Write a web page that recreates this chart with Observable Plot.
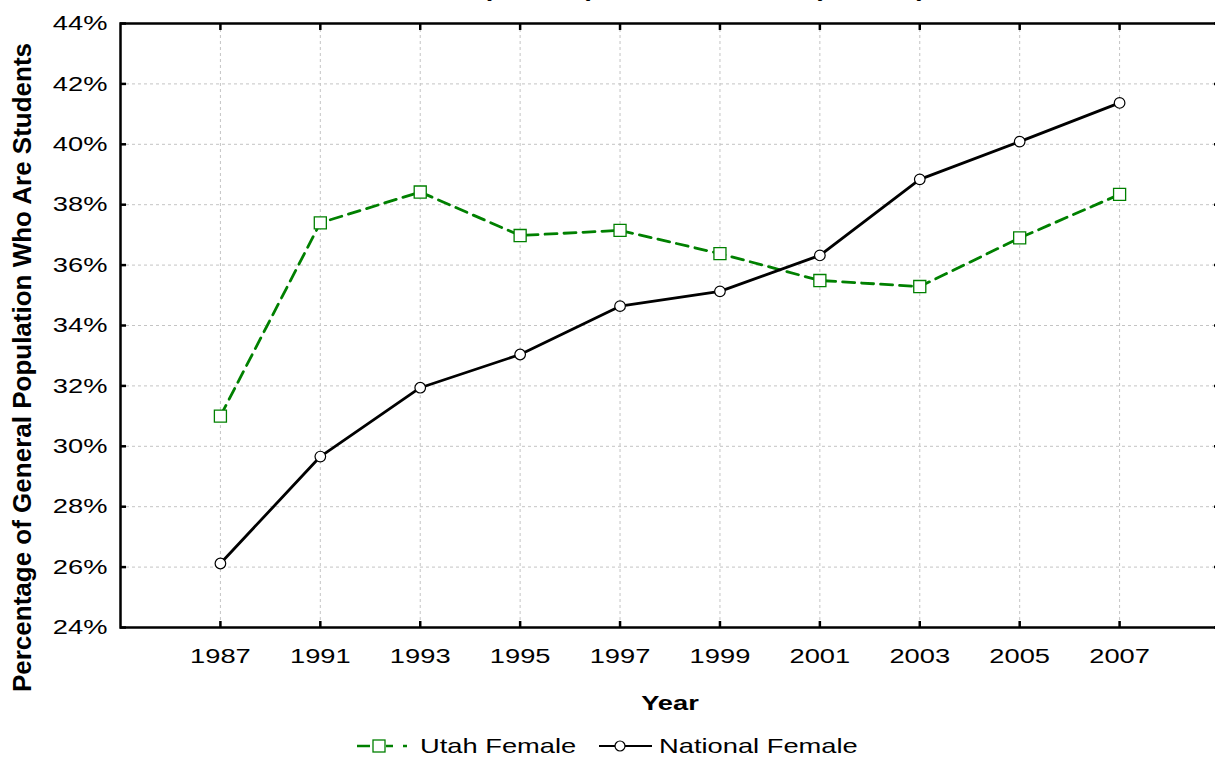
<!DOCTYPE html>
<html><head><meta charset="utf-8">
<script src="https://cdn.jsdelivr.net/npm/d3@7"></script>
<script src="https://cdn.jsdelivr.net/npm/@observablehq/plot@0.6"></script>
<style>
html,body{margin:0;padding:0;background:#fff;overflow:hidden;width:1215px;height:759px;}
#chart{width:1215px;height:720px;overflow:hidden;}
#chart svg{display:block;max-width:none !important;}
.legend{width:1215px;height:39px;display:flex;justify-content:center;align-items:center;padding-top:12px;box-sizing:border-box;font-family:"Liberation Sans",Arial,sans-serif;font-size:21px;color:#000;}
.legend svg{display:block;flex:none;}
.legend .lab{display:inline-block;transform:scaleX(1.3);transform-origin:left center;white-space:nowrap;}
</style></head>
<body><div id="chart"></div><div class="legend" id="legend"></div>
<script>
const years = ["1987","1991","1993","1995","1997","1999","2001","2003","2005","2007"];
const utahFemale = [31.0, 37.4, 38.42, 36.98, 37.15, 36.38, 35.49, 35.29, 36.9, 38.34];
const nationalFemale = [26.12, 29.66, 31.94, 33.04, 34.64, 35.13, 36.32, 38.84, 40.09, 41.37];
const yTicks = [24, 26, 28, 30, 32, 34, 36, 38, 40, 42, 44];
const seriesNames = ["Utah Female", "National Female"];
const titleText = "Utah (Female) versus National (Female)";
const xLabel = "Year";
const yLabel = "Percentage of General Population Who Are Students";

const utah = years.map((year, i) => ({year, value: utahFemale[i]}));
const national = years.map((year, i) => ({year, value: nationalFemale[i]}));

const font = '"Liberation Sans", Arial, sans-serif';
const gridStyle = {stroke: "#c4c4c4", strokeOpacity: 1, strokeDasharray: "3,3", strokeWidth: 1};
const tickStyle = {tickSize: -6, strokeWidth: 2.5, fill: "none", label: null};

const plot = Plot.plot({
  width: 1232, height: 720,
  marginTop: 23, marginBottom: 93, marginLeft: 120, marginRight: 13,
  style: {fontFamily: font, fontSize: "21px", color: "#000", background: "transparent", overflow: "visible", maxWidth: "none"},
  x: {type: "point", domain: years, padding: 1, round: false, label: null},
  y: {domain: [24, 44], label: null},
  marks: [
    Plot.gridX(years, gridStyle),
    Plot.gridY(yTicks, gridStyle),
    Plot.line(utah, {x: "year", y: "value", stroke: "#008000", strokeWidth: 2.8, strokeDasharray: "12,7"}),
    Plot.line(national, {x: "year", y: "value", stroke: "#000", strokeWidth: 2.8}),
    Plot.dot(utah, {x: "year", y: "value", symbol: "square", r: 6.8, stroke: "#008000", fill: "#fff", strokeWidth: 1.3}),
    Plot.dot(national, {x: "year", y: "value", r: 5.3, stroke: "#000", fill: "#fff", strokeWidth: 1.2}),
    Plot.frame({stroke: "#000", strokeWidth: 2.5}),
    Plot.axisX(years, {anchor: "bottom", ...tickStyle}),
    Plot.axisX(years, {anchor: "top", ...tickStyle}),
    Plot.axisY(yTicks, {anchor: "left", ...tickStyle}),
    Plot.axisY(yTicks, {anchor: "right", ...tickStyle}),
    Plot.axisX(years, {anchor: "bottom", tickSize: 0, tickPadding: 21, label: null, fontSize: 21}),
    Plot.axisY(yTicks, {anchor: "left", tickSize: 0, tickPadding: 13, tickFormat: d => d + "%", label: null, fontSize: 21}),
    Plot.text([xLabel], {frameAnchor: "bottom", textAnchor: "middle", lineAnchor: "middle", dy: 76, fontWeight: "bold", fontSize: 21}),
    Plot.text([yLabel], {frameAnchor: "left", textAnchor: "middle", lineAnchor: "middle", rotate: -90, dx: -98, dy: 42, fontWeight: "bold", fontSize: 26}),
    Plot.text([titleText], {frameAnchor: "top", textAnchor: "middle", lineAnchor: "bottom", dy: -27, fontWeight: "bold", fontSize: 21})
  ]
});

// horizontal stretch of the horizontal texts, as in the reference
const SX = 1.3;
plot.querySelectorAll("text").forEach(t => {
  const tr = t.getAttribute("transform") || "";
  if (tr.includes("rotate")) return;
  if (tr) t.setAttribute("transform", tr + ` scale(${SX},1)`);
  else {
    const x = +t.getAttribute("x") || 0, y = +t.getAttribute("y") || 0;
    t.removeAttribute("x"); t.removeAttribute("y");
    t.setAttribute("transform", `translate(${x},${y}) scale(${SX},1)`);
  }
});
document.getElementById("chart").append(plot);

// legend
const legend = document.getElementById("legend");
legend.innerHTML = `
<svg width="58" height="16" viewBox="0 0 58 16">
  <g stroke="#008000" stroke-width="2.5"><line x1="0" x2="13" y1="8" y2="8"/><line x1="29" x2="36" y1="8" y2="8"/><line x1="46" x2="50" y1="8" y2="8"/></g>
  <rect x="16" y="2" width="12" height="12" fill="#fff" stroke="#008000" stroke-width="1.3"/>
</svg>
<span class="lab" style="margin-left:5px">${seriesNames[0]}</span>
<svg width="53" height="16" viewBox="0 0 53 16">
  <line x1="0" x2="53" y1="8" y2="8" stroke="#000" stroke-width="2.2"/>
  <circle cx="21" cy="8" r="5" fill="#fff" stroke="#000" stroke-width="1.2"/>
</svg>
<span class="lab" style="margin-left:7px">${seriesNames[1]}</span>`;
const labs = legend.querySelectorAll(".lab");
labs[0].style.marginRight = (labs[0].offsetWidth * (SX - 1) + 22) + "px";
labs[1].style.marginRight = (labs[1].offsetWidth * (SX - 1)) + "px";
</script>
</body></html>
